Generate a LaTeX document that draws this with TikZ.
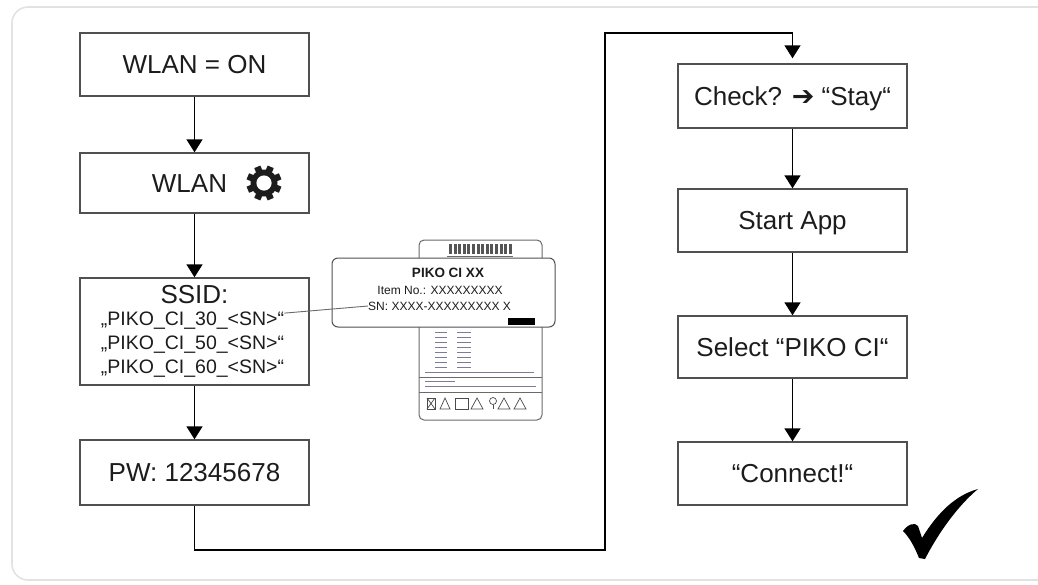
\documentclass[tikz,border=0pt]{standalone}
\usepackage{fontspec}
\setmainfont{Liberation Sans}
\newfontfamily\symfont{DejaVu Sans}
\usetikzlibrary{arrows.meta}
\definecolor{ink}{HTML}{1C1C1C}
\definecolor{boxgray}{HTML}{505050}
\definecolor{framegray}{HTML}{E2E2E2}
\definecolor{plategray}{HTML}{6A6A6A}
\definecolor{finetext}{HTML}{7C7C98}

\begin{document}
\begin{tikzpicture}[x=1pt,y=-1pt,
  stepbox/.style={draw=boxgray, line width=1.4pt, minimum width=229pt,
    font=\fontsize{26}{30}\selectfont, text=ink,
    text height=18.6pt, text depth=0pt, inner sep=0pt},
  flow/.style={draw=black, line width=1.6pt, -{Triangle[length=13pt,width=16pt]}},
  ssidline/.style={font=\fontsize{19.5}{22}\selectfont, text=ink, anchor=base, inner sep=0pt},
  plate/.style={draw=plategray, line width=1pt, rounded corners=5pt},
  fine/.style={draw=finetext, line width=0.8pt},
  labeltext/.style={text=ink, inner sep=0pt, font=\fontsize{12}{14}\selectfont},
]
\useasboundingbox (0,0) rectangle (1038,584);

% outer frame
\draw[framegray, line width=1.6pt, rounded corners=16pt] (12,7) rectangle (1070,580);

% ---------- left column ----------
\node[stepbox, minimum height=63pt] (wlanon) at (194.5,64.5) {WLAN = ON};
\node[stepbox, minimum height=60pt] (wlanset) at (194.5,183) {};
\node[font=\fontsize{26}{30}\selectfont, text=ink, text height=18.6pt, text depth=0pt, inner sep=0pt]
  (wlanword) at (189.5,183) {WLAN};
% gear symbol
\begin{scope}[shift={(264,183)}]
  \foreach \a in {0,45,...,315}
    \fill[ink, rotate=\a+22.5] (-3.3,-17.5) rectangle (3.3,-10);
  \fill[ink] (0,0) circle (13.5);
  \fill[white] (0,0) circle (7.6);
\end{scope}

\node[stepbox, minimum height=107pt] (ssid) at (194.5,331.5) {};
\node[ssidline, font=\fontsize{26}{30}\selectfont] (ssidhead) at (194.5,303) {SSID:};
\node[ssidline] (ssid30) at (192.5,325) {„PIKO\_CI\_30\_<SN>“};
\node[ssidline] (ssid50) at (192.5,349) {„PIKO\_CI\_50\_<SN>“};
\node[ssidline] (ssid60) at (192.5,373) {„PIKO\_CI\_60\_<SN>“};

\node[stepbox, minimum height=65pt] (pw) at (194.5,472.5) {PW: 12345678};

% ---------- right column ----------
\node[stepbox, minimum height=64pt] (check) at (792.5,96)
  {Check? {\symfont\fontsize{27}{30}\selectfont ➔} “Stay“};
\node[stepbox, minimum height=63pt] (app) at (792.5,220.5) {Start App};
\node[stepbox, minimum height=62pt] (select) at (792.5,347) {Select “PIKO CI“};
\node[stepbox, minimum height=63pt] (connect) at (792.5,473.5) {“Connect!“};

% ---------- connectors ----------
\draw[flow] (wlanon) -- (wlanset);
\draw[flow] (wlanset) -- (ssid);
\draw[flow] (ssid) -- (pw);
\coordinate (loopa) at (605,550);
\coordinate (loopb) at (605,33);
\draw[flow, shorten >=5pt] (pw.south) |- (loopa) -- (loopb) -| (check.north);
\draw[flow] (check) -- (app);
\draw[flow] (app) -- (select);
\draw[flow] (select) -- (connect);

% ---------- type plate ----------
\draw[plate, fill=white] (419,240) rectangle (542,420);
% maker logo on the plate
\foreach \i in {0,...,13}
  \fill[plategray!80!black] (449+\i*4.6,244) rectangle ++(3,10);
\draw[plategray, line width=1pt] (447,256) -- (513,256);
% data rows
\foreach \i in {0,...,7} {
  \draw[fine] (435,332+\i*5) -- (447,332+\i*5);
  \draw[fine] (457,332+\i*5) -- (471,332+\i*5);
}
\draw[fine, line width=0.6pt] (425,372) -- (534,372);
\draw[plategray, line width=0.8pt] (419,377) -- (542,377);
\draw[fine, line width=0.6pt] (425,381) -- (455,381);
\draw[fine, line width=0.6pt] (425,386) -- (536,386);
\draw[plategray, line width=0.8pt] (419,392) -- (542,392);
% warning symbols row
\begin{scope}[plategray!70!black, line width=0.7pt]
  \draw (427,398) rectangle (435,409);
  \draw (427,398) -- (435,409) (435,398) -- (427,409);
  \draw (440,409) -- (445,398) -- (450,409) -- cycle;
  \draw (455,398) rectangle (468,409);
  \draw (471,409) -- (477,398) -- (483,409) -- cycle;
  \draw (493,401) circle (3.5); \draw (493,405) -- (493,409);
  \draw (498,409) -- (504,398) -- (510,409) -- cycle;
  \draw (514,409) -- (520,398) -- (526,409) -- cycle;
\end{scope}

% enlarged label
\node[draw=boxgray, line width=1pt, fill=white, rounded corners=6pt,
      minimum width=223pt, minimum height=69pt] (callout) at (443.5,292.5) {};
\node[labeltext, font=\bfseries\fontsize{13.5}{14}\selectfont] (piko) at (448,273) {PIKO CI XX};
\node[labeltext] (itemno) at (440,290) {Item No.: XXXXXXXXX};
\node[labeltext, anchor=west] (sn) at (368,306) {SN: XXXX-XXXXXXXXX X};
\fill[black] (508,318) rectangle (535,325);

% pointer from the SSID to the serial number
\draw[plategray, line width=0.9pt] (ssid30.east) ++(0,-7) coordinate (ptr) -- (sn.west);

% ---------- done mark ----------
\fill[black] (903,531) .. controls (908,524) and (915,522) .. (918,526)
  -- (922,538) .. controls (938,512) and (956,495) .. (978,489)
  .. controls (961,503) and (941,528) .. (925,559)
  -- (919,558) .. controls (915,548) and (910,538) .. (903,531) -- cycle;
\end{tikzpicture}
\end{document}
